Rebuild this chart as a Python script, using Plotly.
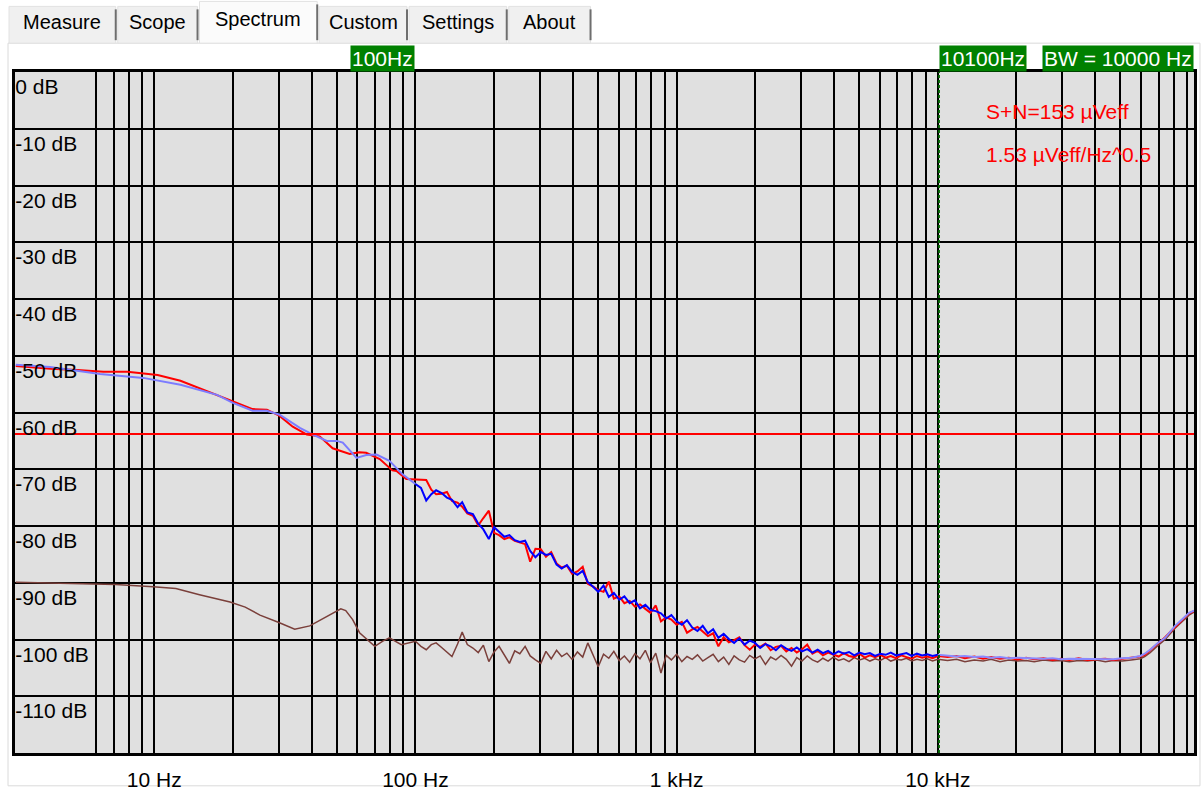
import math
import plotly.graph_objects as go

# ---------------- data ----------------
TABS = ["Measure", "Scope", "Spectrum", "Custom", "Settings", "About"]
SELECTED_TAB = "Spectrum"

X_LABEL_VALUES = [10, 100, 1000, 10000]
X_LABEL_TEXT = ["10 Hz", "100 Hz", "1 kHz", "10 kHz"]
Y_TICK_VALUES = [0, -10, -20, -30, -40, -50, -60, -70, -80, -90, -100, -110]
Y_TICK_TEXT = ["0 dB", "-10 dB", "-20 dB", "-30 dB", "-40 dB", "-50 dB", "-60 dB",
               "-70 dB", "-80 dB", "-90 dB", "-100 dB", "-110 dB"]
F_MIN, F_MAX = 2.93, 95700
DB_MIN, DB_MAX = -120, 0

REF_LEVEL_DB = -63.8
CURSOR_1_HZ = 100
CURSOR_2_HZ = 10100
CURSOR_1_TEXT = "100Hz"
CURSOR_2_TEXT = "10100Hz"
BANDWIDTH_TEXT = "BW = 10000 Hz"
SN_TEXT = "S+N=153 µVeff"
DENSITY_TEXT = "1.53 µVeff/Hz^0.5"

# low-frequency part
RED_LOW_F = [2.95, 4.0, 5.08, 6.39, 7.89, 9.08, 10.3, 12.6, 15.4, 20.0, 23.8, 27.0, 30.2,
             33.9, 38.4, 43.0, 48.2, 56.0, 61.0, 64.8, 73.0, 81.6, 84.6, 92.3]
RED_LOW_DB = [-51.8, -52.3, -52.5, -52.8, -52.8, -53.1, -53.4, -54.4, -56.0, -58.0, -59.4,
              -59.5, -60.6, -62.5, -63.9, -64.2, -66.3, -67.3, -67.0, -67.1, -68.2, -70.2,
              -70.3, -71.7]
BLUE_LOW_F = [2.95, 4.0, 6.2, 9.08, 12.6, 17.4, 20.0, 23.8, 27.0, 30.2, 36.1, 40.5, 45.8,
              50.0, 52.7, 59.5, 64.8, 71.0, 79.5, 89.3]
BLUE_LOW_DB = [-51.6, -52.0, -53.2, -53.9, -55.1, -56.9, -58.3, -59.7, -59.7, -60.4, -62.7,
               -63.9, -65.0, -65.0, -65.3, -68.0, -67.5, -67.4, -68.5, -70.9]
BROWN_LOW_F = [2.95, 7.10, 9.9, 12.1, 14.9, 19.5, 22.3, 25.4, 30.0, 34.5, 39.4, 45.0, 51.8,
               54.1, 57.5, 61.1, 69.9, 75.0, 79.5, 88.3]
BROWN_LOW_DB = [-89.9, -90.3, -90.7, -91.0, -92.1, -93.4, -94.3, -95.7, -97.0, -98.2, -97.6,
                -96.1, -94.6, -94.9, -96.5, -98.8, -101.2, -100.3, -99.7, -100.9]

# middle part, 100 Hz .. 10 kHz
MID_F = [100, 105, 110, 115, 120, 126, 132, 138, 145, 151, 158, 166, 174, 182, 191, 200,
         209, 219, 229, 240, 251, 263, 275, 288, 302, 316, 331, 347, 363, 380, 398, 417,
         437, 457, 479, 501, 525, 550, 575, 603, 631, 661, 692, 724, 759, 794, 832, 871,
         912, 955, 1000, 1047, 1096, 1148, 1202, 1259, 1318, 1380, 1445, 1514, 1585, 1660,
         1738, 1820, 1905, 1995, 2089, 2188, 2291, 2399, 2512, 2630, 2754, 2884, 3020,
         3162, 3311, 3467, 3631, 3802, 3981, 4169, 4365, 4571, 4786, 5012, 5248, 5495,
         5754, 6026, 6310, 6607, 6918, 7244, 7586, 7943, 8318, 8710, 9120, 9550, 10000]
RED_MID_DB = [-71.8, -71.8, -71.9, -73.6, -74.4, -74.3, -74.0, -75.6, -75.9, -76.6, -77.8,
              -78.2, -79.9, -78.6, -77.3, -81.2, -81.6, -82.3, -82.0, -82.6, -82.9, -83.2,
              -86.3, -84.0, -84.1, -85.4, -84.6, -86.6, -87.3, -87.0, -88.4, -88.0, -87.2,
              -90.2, -90.7, -91.3, -91.6, -89.8, -92.8, -92.4, -93.6, -93.2, -94.2, -93.8,
              -94.6, -95.3, -94.0, -96.8, -96.1, -96.5, -97.4, -96.9, -98.8, -98.2, -97.8,
              -98.6, -99.4, -98.9, -101.2, -99.6, -100.5, -100.1, -99.6, -101.0, -101.8,
              -100.9, -101.3, -100.7, -101.9, -101.3, -101.1, -102.1, -101.5, -102.3,
              -101.7, -100.9, -102.5, -102.0, -102.8, -102.3, -102.6, -103.0, -102.4,
              -102.9, -103.1, -102.5, -103.2, -102.8, -103.1, -102.7, -103.2, -102.9,
              -103.3, -102.8, -103.1, -103.4, -102.9, -103.2, -103.0, -103.3, -102.9]
BLUE_MID_DB = [-72.6, -73.3, -75.5, -74.4, -73.7, -74.2, -75.0, -75.4, -76.7, -75.8, -77.6,
               -77.9, -79.6, -80.6, -82.3, -80.2, -81.0, -81.9, -81.6, -82.5, -82.8, -82.6,
               -84.4, -85.5, -84.6, -85.1, -84.9, -86.8, -87.5, -86.9, -88.1, -88.6, -87.9,
               -89.9, -90.7, -91.6, -90.5, -92.5, -91.8, -93.0, -92.4, -93.6, -93.1, -94.5,
               -93.9, -94.8, -95.0, -95.4, -96.3, -95.7, -96.8, -97.4, -96.6, -97.9, -98.5,
               -97.6, -98.9, -98.2, -99.7, -99.0, -99.9, -100.6, -99.8, -100.9, -100.2,
               -100.6, -101.5, -100.8, -101.2, -101.9, -101.0, -101.6, -102.0, -101.4,
               -102.1, -101.7, -102.3, -101.8, -102.4, -102.0, -102.6, -102.1, -102.5,
               -102.2, -102.8, -102.3, -102.6, -102.4, -102.9, -102.5, -102.7, -102.3,
               -102.8, -102.6, -102.4, -102.9, -102.5, -102.8, -102.6, -102.9, -102.7]
BROWN_MID_DB = [-100.3, -101.2, -101.8, -100.9, -100.6, -101.4, -102.2, -103.0, -100.8,
                -98.7, -100.9, -101.5, -102.3, -101.0, -103.9, -102.2, -101.2, -102.8,
                -104.2, -102.0, -102.5, -101.2, -102.9, -103.6, -104.2, -102.1, -103.4,
                -101.9, -103.0, -102.4, -103.5, -102.2, -103.1, -100.6, -102.8, -104.8,
                -102.6, -103.3, -102.1, -103.7, -102.9, -104.0, -102.5, -103.4, -101.9,
                -104.1, -102.4, -105.9, -102.8, -103.6, -102.6, -103.9, -103.0, -103.5,
                -102.7, -103.8, -103.2, -102.6, -103.9, -103.1, -104.4, -102.9, -103.6,
                -104.0, -102.8, -103.4, -102.9, -104.4, -103.1, -103.6, -102.8, -103.5,
                -104.7, -103.2, -103.8, -102.9, -103.6, -104.0, -103.3, -103.8, -103.1,
                -103.7, -103.4, -103.9, -103.2, -103.6, -103.3, -103.8, -103.4, -103.7,
                -103.2, -103.8, -103.5, -103.6, -103.3, -103.8, -103.5, -103.7, -103.4,
                -103.8, -103.5]

# high-frequency tail, above 10 kHz
TAIL_F = [10900, 11800, 12700, 13800, 14900, 16000, 17300, 18700, 20200, 21800, 23400,
          25400, 27500, 29600, 31900, 34600, 37400, 40500, 43800, 47000, 50800, 55000,
          59600, 62000, 65000, 69200, 74200, 81000, 86900, 91600, 95700]
RED_TAIL_DB = [-103.1, -102.9, -103.3, -103.0, -103.4, -103.1, -103.4, -103.2, -103.5,
               -103.2, -103.5, -103.3, -103.6, -103.4, -103.6, -103.3, -103.6, -103.5,
               -103.4, -103.6, -103.4, -103.3, -103.0, -102.7, -101.9, -100.9, -99.6,
               -97.8, -96.4, -95.4, -95.0]
BLUE_TAIL_DB = [-102.8, -103.0, -102.9, -103.1, -103.0, -103.2, -103.1, -103.3, -103.2,
                -103.3, -103.3, -103.4, -103.3, -103.5, -103.4, -103.4, -103.5, -103.4,
                -103.4, -103.5, -103.3, -103.2, -102.9, -102.5, -101.8, -100.7, -99.7,
                -97.6, -96.3, -95.3, -94.9]
BROWN_TAIL_DB = [-103.7, -103.5, -103.9, -103.6, -103.8, -103.5, -103.9, -103.6, -103.8,
                 -103.7, -103.9, -103.6, -103.8, -103.7, -103.9, -103.7, -103.8, -103.6,
                 -103.9, -103.7, -103.8, -103.6, -103.4, -103.0, -102.3, -101.2, -100.0,
                 -98.0, -96.7, -95.7, -95.2]

# ---------------- layout geometry (pixels) ----------------
W, H = 1202, 796
PL, PR, PT, PB = 15, 1197, 72, 757
FONT = "Liberation Sans, Arial, sans-serif"


def px(X):
    return (X - PL) / (PR - PL)


def py(Y):
    return (PB - Y) / (PB - PT)


fig = go.Figure()

# brown (noise floor)
fig.add_trace(go.Scatter(x=BROWN_LOW_F + MID_F + TAIL_F,
                         y=BROWN_LOW_DB + BROWN_MID_DB + BROWN_TAIL_DB,
                         mode="lines", line=dict(color="#7a3f3a", width=1.5)))
# red (left channel)
fig.add_trace(go.Scatter(x=RED_LOW_F + MID_F + TAIL_F,
                         y=RED_LOW_DB + RED_MID_DB + RED_TAIL_DB,
                         mode="lines", line=dict(color="#ff0000", width=2)))
# blue (right channel) - light where smooth, saturated where noisy
fig.add_trace(go.Scatter(x=BLUE_LOW_F + MID_F[:1], y=BLUE_LOW_DB + BLUE_MID_DB[:1],
                         mode="lines", line=dict(color="#7c7cff", width=2)))
fig.add_trace(go.Scatter(x=MID_F, y=BLUE_MID_DB,
                         mode="lines", line=dict(color="#0000ff", width=2)))
fig.add_trace(go.Scatter(x=MID_F[-1:] + TAIL_F, y=BLUE_MID_DB[-1:] + BLUE_TAIL_DB,
                         mode="lines", line=dict(color="#8a8aff", width=2)))

# reference level line
fig.add_trace(go.Scatter(x=[F_MIN, F_MAX], y=[REF_LEVEL_DB, REF_LEVEL_DB],
                         mode="lines", line=dict(color="#ff0000", width=2)))
# cursor 2 dashed line
fig.add_trace(go.Scatter(x=[CURSOR_2_HZ, CURSOR_2_HZ], y=[DB_MIN, DB_MAX],
                         mode="lines", line=dict(color="#006400", width=2, dash="3px,2px")))

# grid positions on log axis: every 1..9 multiple of each decade
grid_vals = []
for d in [1, 10, 100, 1000, 10000]:
    for m in range(1, 10):
        v = d * m
        if F_MIN <= v <= F_MAX:
            grid_vals.append(v)
grid_text = [X_LABEL_TEXT[X_LABEL_VALUES.index(v)] if v in X_LABEL_VALUES else ""
             for v in grid_vals]

fig.update_xaxes(type="log", range=[math.log10(F_MIN), math.log10(F_MAX)],
                 tickmode="array", tickvals=grid_vals, ticktext=grid_text,
                 showgrid=True, gridcolor="#000000", gridwidth=2,
                 showline=True, mirror=True, linecolor="#000000", linewidth=3,
                 ticks="", ticklabelstandoff=6, zeroline=False,
                 tickfont=dict(family=FONT, size=21, color="#000000"))
fig.update_yaxes(range=[DB_MIN, DB_MAX], tickmode="array",
                 tickvals=Y_TICK_VALUES, ticktext=Y_TICK_TEXT,
                 showgrid=True, gridcolor="#000000", gridwidth=2,
                 showline=True, mirror=True, linecolor="#000000", linewidth=3,
                 ticks="", zeroline=False, ticklabelposition="inside bottom",
                 tickfont=dict(family=FONT, size=21, color="#000000"))

shapes = []
annotations = []

# panel outline (no fill so the plot background stays grey)
shapes.append(dict(type="rect", xref="paper", yref="paper", layer="below",
                   x0=px(8), x1=px(1203), y0=py(790), y1=py(43),
                   fillcolor="rgba(0,0,0,0)", line=dict(color="#dadada", width=1)))

# tabs
tab_edges = [(9, 116), (118, 198), (200, 318), (320, 408), (410, 508), (510, 592)]
for name, (a, b) in zip(TABS, tab_edges):
    sel = name == SELECTED_TAB
    top = 1 if sel else 6
    shapes.append(dict(type="rect", xref="paper", yref="paper", layer="below",
                       x0=px(a), x1=px(b), y0=py(43), y1=py(top),
                       fillcolor="#fbfbfb" if sel else "#f0f0f0",
                       line=dict(color="#e2e2e2", width=1)))
    shapes.append(dict(type="line", xref="paper", yref="paper",
                       x0=px(b), x1=px(b), y0=py(40), y1=py(top + 3),
                       line=dict(color="#6e6e6e", width=2)))
    annotations.append(dict(xref="paper", yref="paper", x=px((a + b) / 2),
                            y=py(19 if sel else 22), text=name, showarrow=False,
                            xanchor="center", yanchor="middle",
                            font=dict(family=FONT, size=20, color="#000000")))

# cursor labels
green = "#008000"
annotations.append(dict(xref="x", yref="paper", x=math.log10(CURSOR_1_HZ), y=1,
                        xanchor="right", yanchor="bottom", text=CURSOR_1_TEXT,
                        showarrow=False, bgcolor=green, borderpad=1,
                        font=dict(family=FONT, size=21, color="#ffffff")))
annotations.append(dict(xref="x", yref="paper", x=math.log10(CURSOR_2_HZ), y=1,
                        xanchor="left", yanchor="bottom", text=CURSOR_2_TEXT,
                        showarrow=False, bgcolor=green, borderpad=1,
                        font=dict(family=FONT, size=21, color="#ffffff")))
annotations.append(dict(xref="paper", yref="paper", x=1, y=1,
                        xanchor="right", yanchor="bottom", text=BANDWIDTH_TEXT,
                        showarrow=False, bgcolor=green, borderpad=1,
                        font=dict(family=FONT, size=21, color="#ffffff")))

# measurement readouts
annotations.append(dict(xref="paper", yref="paper", x=px(986), y=py(112),
                        xanchor="left", yanchor="middle", text=SN_TEXT, showarrow=False,
                        font=dict(family=FONT, size=21, color="#ff0000")))
annotations.append(dict(xref="paper", yref="paper", x=px(986), y=py(155),
                        xanchor="left", yanchor="middle", text=DENSITY_TEXT, showarrow=False,
                        font=dict(family=FONT, size=21, color="#ff0000")))

fig.update_layout(width=W, height=H, autosize=False,
                  margin=dict(l=PL, r=W - PR, t=PT, b=H - PB, pad=0),
                  paper_bgcolor="#ffffff", plot_bgcolor="#e0e0e0",
                  showlegend=False, hovermode=False,
                  shapes=shapes, annotations=annotations)

fig.write_html("out.html",
               config={"displayModeBar": False},
               post_script="document.body.style.margin='0';"
                           "document.body.style.overflow='hidden';")
